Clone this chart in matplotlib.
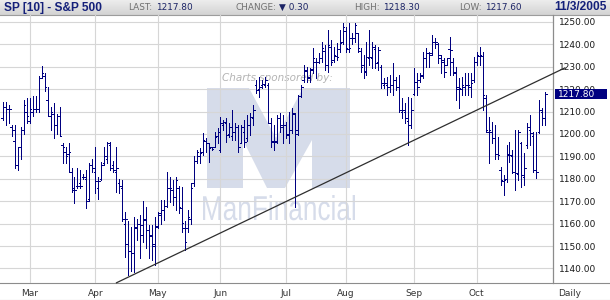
import matplotlib
matplotlib.use("Agg")
import matplotlib.pyplot as plt
import matplotlib.transforms as mtransforms
from matplotlib.colors import LinearSegmentedColormap
from matplotlib.font_manager import FontProperties
from matplotlib.patches import PathPatch, Polygon, Rectangle
from matplotlib.textpath import TextPath
from matplotlib.ticker import FormatStrFormatter
import numpy as np
import pandas as pd


# --- data (daily OHLC, S&P 500 futures) ---
holidays = ["2005-02-21", "2005-03-25", "2005-05-30", "2005-07-04", "2005-09-05"]
first_day = "2005-02-15"
last_day = "2005-11-03"

bar_open = [
    # Feb
    1207, 1212, 1211, 1203, 1197, 1186, 1194, 1202, 1210,
    # Mar
    1206, 1210, 1211, 1211, 1225, 1226, 1215, 1208, 1209, 1204, 1208,
    1195, 1192, 1191, 1183, 1175, 1177, 1178, 1181, 1180, 1171, 1186,
    # Apr
    1183, 1176, 1180, 1187, 1189, 1195, 1186, 1183, 1178, 1176, 1160,
    1151, 1148, 1147, 1158, 1160, 1155, 1162, 1157, 1155, 1150,
    # May
    1159, 1164, 1166, 1168, 1176, 1175, 1172, 1176, 1167, 1158, 1158,
    1162, 1178, 1188, 1190, 1192, 1197, 1196, 1194, 1194, 1199,
    # Jun
    1193, 1204, 1205, 1200, 1199, 1201, 1203, 1196, 1201, 1198, 1204,
    1207, 1222, 1220, 1222, 1222, 1222, 1205, 1197, 1197, 1207, 1204,
    # Jul
    1204, 1200, 1202, 1209, 1202, 1217, 1224, 1228, 1225, 1229,
    1232, 1232, 1234, 1237, 1231, 1239, 1233, 1235, 1238, 1241,
    # Aug
    1246, 1238, 1243, 1243, 1245, 1237, 1231, 1228, 1234, 1234, 1238, 1232,
    1230, 1222, 1222, 1221, 1222, 1224, 1221, 1210, 1210, 1206, 1204,
    # Sep
    1218, 1223, 1224, 1226, 1234, 1236, 1236, 1241, 1240, 1234, 1232,
    1231, 1238, 1232, 1227, 1220, 1220, 1221, 1222, 1221, 1224,
    # Oct
    1232, 1235, 1235, 1216, 1201, 1201, 1198, 1191, 1184, 1179, 1180,
    1191, 1190, 1183, 1182, 1196, 1181, 1195, 1202, 1199, 1184,
    # Nov
    1201, 1210, 1207,
]

bar_high = [
    1214.4, 1214.4, 1213, 1204, 1204, 1194, 1203, 1215, 1216,
    1216, 1217, 1217, 1226, 1230.5, 1227, 1221, 1212, 1214, 1209, 1212,
    1196, 1194, 1196, 1185, 1181, 1185, 1184, 1182, 1184, 1187, 1189,
    1194, 1181, 1187.6, 1194, 1196.6, 1196.6, 1188, 1194, 1180, 1179.5, 1165,
    1161, 1158.6, 1163, 1162, 1163.8, 1170, 1167.5, 1159.4, 1159.4, 1163,
    1165, 1170.5, 1170.5, 1183, 1181, 1179.5, 1181, 1177, 1176.5, 1161, 1166,
    1178, 1190, 1192.9, 1193.8, 1200.4, 1198, 1196, 1194.3, 1201, 1202.7,
    1207.7, 1206.3, 1207.2, 1205, 1210.7, 1205, 1204, 1204, 1206.3, 1208.5, 1209.4,
    1213, 1224, 1225.6, 1224, 1225.6, 1222.8, 1207, 1204, 1208.5, 1209.4, 1208.5,
    1205.5, 1210, 1211.5, 1209.4, 1217.4, 1221.9, 1230.8, 1230, 1229.3, 1238.3,
    1233.8, 1236, 1241.2, 1239.7, 1246.4, 1242, 1239, 1240.5, 1246.4, 1249.4,
    1247.9, 1249.4, 1245, 1249.4, 1245, 1238.3, 1235.3, 1241.2, 1246.4, 1241.2, 1239.7, 1239,
    1230.8, 1224.9, 1225.6, 1226.3, 1231.6, 1225.6, 1226.3, 1216, 1213.7, 1216.7, 1216,
    1229.3, 1227, 1227, 1236.7, 1238.3, 1236.7, 1244.2, 1242.7, 1240.5, 1235.3, 1233.8,
    1233.8, 1243.4, 1233.8, 1230, 1224.9, 1225.6, 1227, 1227, 1227, 1234.5,
    1236.7, 1239, 1236.7, 1217.4, 1207.7, 1205.5, 1204, 1198.8, 1185.4, 1181.7, 1195.1,
    1196.6, 1192.9, 1201.8, 1201.8, 1196.6, 1191.4, 1204.8, 1208.5, 1201, 1201,
    1215.2, 1211.5, 1218.9,
]

bar_low = [
    1206.3, 1204, 1205, 1199, 1185, 1184, 1189, 1200, 1205,
    1205, 1208, 1210, 1210, 1225, 1219, 1208, 1202, 1198, 1200, 1199,
    1187, 1187, 1183, 1174, 1169, 1176, 1176, 1180, 1167, 1170, 1183,
    1173.5, 1171, 1179.5, 1186, 1187, 1184, 1183, 1174, 1173.7, 1161, 1145,
    1137, 1139, 1138.5, 1152.7, 1144.6, 1151.6, 1149, 1144.6, 1143.8, 1141.5,
    1158, 1160, 1161.6, 1167.5, 1169.8, 1168.3, 1166, 1164.7, 1156.4, 1148.2, 1156.4,
    1160, 1177, 1187, 1187, 1190.6, 1192, 1187.6, 1192.9, 1194.3, 1196,
    1192, 1201.8, 1196.6, 1198.8, 1197.3, 1197.3, 1192, 1196, 1194.3, 1197, 1199.6,
    1204, 1218.3, 1216.7, 1220.5, 1221, 1205, 1194.3, 1193, 1196, 1201, 1196,
    1198.2, 1196, 1200.3, 1167.5, 1199.6, 1216.7, 1223.3, 1223.3, 1223.3, 1227,
    1224.9, 1231.6, 1232.3, 1228.6, 1227.8, 1230.8, 1232.3, 1233, 1236.7, 1240,
    1236.7, 1236.7, 1240, 1241.2, 1236.7, 1227.8, 1224.9, 1226.3, 1230.8, 1229.3, 1229.3, 1228.6,
    1220.4, 1220.4, 1217.4, 1218.9, 1217.4, 1219.6, 1210, 1207, 1204.8, 1195.1, 1202.5,
    1217.4, 1217.4, 1223.3, 1224.9, 1230, 1230, 1235.3, 1238.3, 1231.6, 1227, 1225.6,
    1230.8, 1226.3, 1226.3, 1215.2, 1211.5, 1217.4, 1217.4, 1217.4, 1216.7, 1223.4,
    1230.8, 1230.8, 1210.7, 1201, 1186.9, 1195.8, 1189, 1189, 1177.2, 1172.8, 1178.7,
    1187.6, 1182.5, 1175, 1179.5, 1176.5, 1177.2, 1193.6, 1195.1, 1183.2, 1180.2,
    1200.3, 1204, 1204,
]

bar_close = [
    1212, 1211, 1211, 1202, 1186, 1194, 1202, 1213, 1208,
    1211, 1211, 1211, 1225, 1227, 1221, 1208, 1210, 1204, 1208, 1199,
    1194, 1190, 1192, 1176, 1175, 1177, 1177, 1181, 1170, 1186, 1185,
    1179, 1179, 1186, 1190, 1196, 1185, 1184, 1185, 1177, 1162, 1162,
    1148, 1147, 1158.6, 1160, 1159.4, 1161.6, 1157, 1154.5, 1151, 1158.6,
    1164.7, 1166, 1168, 1176, 1176, 1172, 1179.5, 1167.5, 1160.3, 1152, 1163,
    1176, 1188, 1192, 1191.5, 1197.3, 1196, 1193.8, 1193.5, 1198.8, 1201,
    1205, 1205.5, 1199.6, 1203.3, 1201, 1203.3, 1194.3, 1203.3, 1196.6, 1204, 1207.7,
    1210.7, 1219.6, 1221, 1222.5, 1224, 1205, 1196.6, 1196.6, 1207, 1203, 1204,
    1199.6, 1201.8, 1209.4, 1200, 1217, 1221, 1228.6, 1225.6, 1228.6, 1233.8,
    1232.3, 1234, 1238.3, 1230.8, 1239.7, 1232.3, 1235.3, 1234.5, 1240.5, 1247.9,
    1238.3, 1238.3, 1243, 1248.7, 1238.3, 1230, 1227.8, 1234.5, 1234.5, 1239, 1231.6, 1237.5,
    1222.6, 1222.6, 1221, 1222, 1224, 1221, 1210.7, 1210.7, 1207, 1204, 1210.7,
    1223.4, 1221, 1226.3, 1233.8, 1236, 1235.3, 1241.2, 1241, 1235.3, 1233, 1227.8,
    1233.8, 1237.5, 1227.8, 1221, 1220.4, 1221.9, 1221.9, 1221.9, 1222.6, 1232.3,
    1235.3, 1235.3, 1217.4, 1201.8, 1201.8, 1198, 1191, 1190.6, 1179.5, 1179.5, 1190.6,
    1190.6, 1183.2, 1182.5, 1201, 1181.7, 1184.7, 1203, 1200.3, 1183.9, 1183.2,
    1210.7, 1207, 1217.8,
]

month_labels = ["Mar", "Apr", "May", "Jun", "Jul", "Aug", "Sep", "Oct"]
month_numbers = [3, 4, 5, 6, 7, 8, 9, 10]
y_ticks = [1140, 1150, 1160, 1170, 1180, 1190, 1200, 1210, 1220, 1230, 1240, 1250]

# trendline through the April and late-August lows (bar index, price)
trend_idx = [38.1, 188.6]
trend_price = [1133.6, 1229.5]

header_title = "SP [10] - S&P 500"
header_date = "11/3/2005"
header_fields = [("LAST:", "1217.80"), ("CHANGE:", "\u25bc 0.30"),
                 ("HIGH:", "1218.30"), ("LOW:", "1217.60")]
last_price = 1217.80


dates = pd.bdate_range(first_day, last_day)
dates = dates[~dates.isin(pd.to_datetime(holidays))]
n = len(dates)
assert n == len(bar_open) == len(bar_high) == len(bar_low) == len(bar_close)
idx = np.arange(n)
month_pos = [int(np.argmax(dates.month == m)) for m in month_numbers]

W, H = 610, 300
BAR = "#000080"
GRID = "#d6d6d6"
AXLINE = "#8c8c8c"
WATER = "#d6dcea"

fig = plt.figure(figsize=(W / 100, H / 100), dpi=100)
fig.patch.set_facecolor("white")

# background layer in pixel coordinates (header, watermark, frame lines)
bg = fig.add_axes([0, 0, 1, 1], zorder=0)
grad = np.linspace(0, 1, 32)[:, None]
bg.imshow(grad, cmap=LinearSegmentedColormap.from_list("hdr", ["#ededed", "#d3d3d3"]),
          extent=(0, W, 15, 0), aspect="auto", interpolation="bilinear")
bg.set_xlim(0, W)
bg.set_ylim(H, 0)
bg.axis("off")
bg.plot([0, W], [15, 15], color="#9c9c9c", lw=0.8)
bg.plot([0, W], [283, 283], color=AXLINE, lw=0.8)
bg.plot([0, W], [299.5, 299.5], color="#a8a8a8", lw=0.8)

# watermark
logo = [(207, 188), (207, 88), (249, 88), (276, 138), (303, 88), (350, 88),
        (350, 188), (312, 188), (312, 140), (285, 188), (267, 188), (243, 140),
        (243, 188)]
bg.add_patch(Polygon(logo, closed=True, facecolor=WATER, edgecolor="none"))
tp = TextPath((0, 0), "ManFinancial", size=1, prop=FontProperties(family="Liberation Sans"))
ext = tp.get_extents()
tr = mtransforms.Affine2D().translate(-ext.x0, 0).scale(152 / ext.width, -25 / ext.y1).translate(203, 220)
bg.add_patch(PathPatch(tr.transform_path(tp), facecolor=WATER, edgecolor="none"))
bg.text(222, 78, "Charts sponsored by:", fontsize=7.5, style="italic", color="#b4b4b4",
        va="center", ha="left")

# header texts
bg.text(4, 7.5, header_title, family="Liberation Sans", fontweight="bold", fontsize=8.6,
        color="#14207a", va="center", ha="left")
bg.text(607, 7.5, header_date, family="Liberation Sans", fontweight="bold", fontsize=8.6,
        color="#14207a", va="center", ha="right")
for x0, (lab, val) in zip([128, 235, 354, 459], header_fields):
    t = bg.text(x0, 7.5, lab, fontsize=6.4, color="#707070", va="center", ha="left")
    bg.annotate(val, xy=(1, 0.5), xycoords=t, xytext=(2.5, 0), textcoords="offset points",
                fontsize=6.4, color="#1c2466", va="center", ha="left")

# main chart
ax = fig.add_axes([0, 17 / H, 553 / W, 268 / H], zorder=1)
ax.patch.set_visible(False)
ax.set_xlim(-1.0, 184.6)
ax.set_ylim(1133.5, 1253.1)

# 1px OHLC bars: open tick left, close tick right
ax.vlines(idx, bar_low, bar_high, colors=BAR, lw=0.6, antialiased=False, zorder=3)
ax.hlines(bar_open, idx - 0.55, idx, colors=BAR, lw=0.6, antialiased=False, zorder=3)
ax.hlines(bar_close, idx, idx + 0.55, colors=BAR, lw=0.6, antialiased=False, zorder=3)

ax.plot(trend_idx, trend_price, color="#2e2e2e", lw=0.9, clip_on=False, zorder=4)

ax.set_xticks(month_pos)
ax.set_xticklabels(month_labels)
ax.set_yticks(y_ticks)
ax.yaxis.set_major_formatter(FormatStrFormatter("%.2f"))
ax.yaxis.tick_right()
ax.grid(True, color=GRID, lw=0.8)
ax.set_axisbelow(True)
ax.tick_params(axis="y", length=0, pad=4, labelsize=6.5, labelcolor="#1a1a1a")
ax.tick_params(axis="x", length=0, pad=4.5, labelsize=6.5, labelcolor="#333333")
for side in ["top", "left", "bottom"]:
    ax.spines[side].set_visible(False)
ax.spines["right"].set_color(AXLINE)
ax.spines["right"].set_linewidth(0.9)

# last price marker on the axis
blend = mtransforms.blended_transform_factory(ax.transAxes, ax.transData)
ax.add_patch(Rectangle((1.004, last_price - 2.3), 0.094, 4.6, transform=blend,
                       facecolor="#000080", edgecolor="none", clip_on=False, zorder=6))
ax.text(1.009, last_price, f"{last_price:.2f}", transform=blend, color="white",
        fontsize=6.5, va="center", ha="left", zorder=7, clip_on=False)

bg.text(570, 293, "Daily", fontsize=6.5, color="#333333", ha="center", va="center")

fig.savefig("out.png", dpi=100, facecolor="white")
